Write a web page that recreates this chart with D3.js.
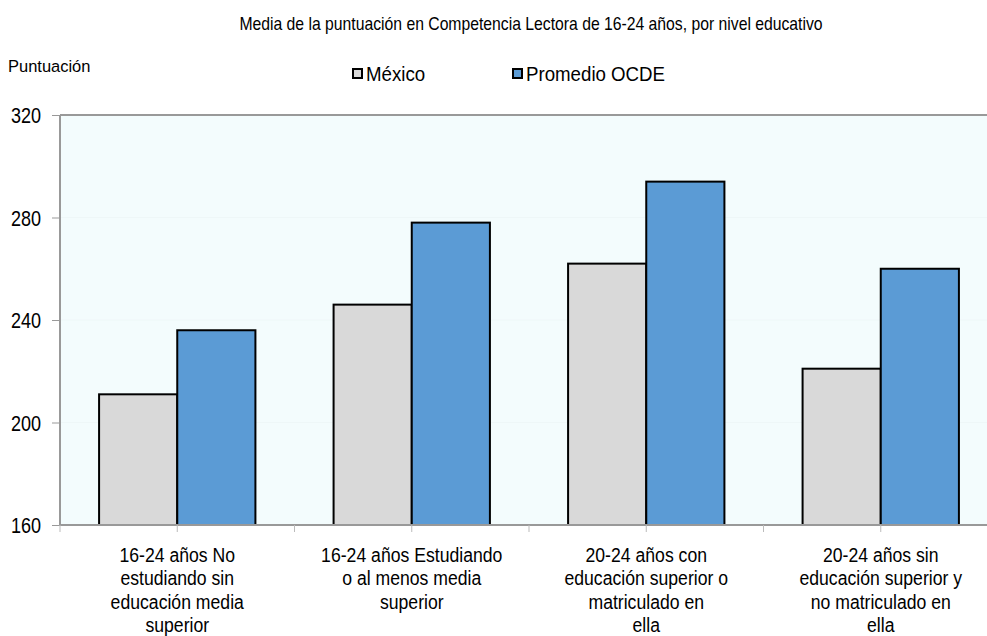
<!DOCTYPE html>
<html>
<head>
<meta charset="utf-8">
<script src="https://cdn.jsdelivr.net/npm/d3@7"></script>
<style>
  html, body { margin: 0; padding: 0; background: #ffffff; }
  svg { display: block; }
  text { font-family: "Liberation Sans", Arial, sans-serif; fill: #000; }
</style>
</head>
<body>
<svg id="chart" width="987" height="636"></svg>
<script>
// Reading-literacy mean scores, ages 16-24, by education level
const categories = [
  ["16-24 años No", "estudiando sin", "educación media", "superior"],
  ["16-24 años Estudiando", "o al menos media", "superior"],
  ["20-24 años con", "educación superior o", "matriculado en", "ella"],
  ["20-24 años sin", "educación superior y", "no matriculado en", "ella"]
];
const seriesNames = ["México", "Promedio OCDE"];
const mexico = [211, 246, 262, 221];
const oecd = [236, 278, 294, 260];
const yTicks = [160, 200, 240, 280, 320];
const colors = ["#d9d9d9", "#5b9bd5"];

const svg = d3.select("#chart");
const margin = { left: 60, top: 115, right: 998, bottom: 525 };

// narrow-looking text: horizontally compressed sans
function narrow(sel, x, y, sx) {
  return sel.attr("transform", `translate(${x},${y}) scale(${sx},1)`);
}

const x = d3.scaleBand()
  .domain(d3.range(categories.length))
  .range([margin.left, margin.right])
  .paddingInner(0).paddingOuter(0);

const xSub = d3.scaleBand()
  .domain(d3.range(seriesNames.length))
  .range([0, x.bandwidth()])
  .paddingInner(0).paddingOuter(0.5);

const y = d3.scaleLinear().domain([160, 320]).range([margin.bottom, margin.top]);

// plot area background
svg.append("rect")
  .attr("x", margin.left).attr("y", margin.top)
  .attr("width", margin.right - margin.left)
  .attr("height", margin.bottom - margin.top)
  .attr("fill", "#f3fcfd");

// faint horizontal gridlines
svg.append("g").selectAll("line")
  .data(yTicks.slice(1, -1))
  .join("line")
  .attr("x1", margin.left).attr("x2", margin.right)
  .attr("y1", d => y(d)).attr("y2", d => y(d))
  .attr("stroke", "#eef7f8").attr("stroke-width", 1);

// bars
const values = [mexico, oecd];
const groups = svg.append("g").selectAll("g")
  .data(categories.map((c, i) => i))
  .join("g")
  .attr("transform", i => `translate(${x(i)},0)`);

groups.selectAll("rect")
  .data(i => values.map((s, k) => ({ k, v: s[i] })))
  .join("rect")
  .attr("x", d => xSub(d.k))
  .attr("width", xSub.bandwidth())
  .attr("y", d => y(d.v))
  .attr("height", d => y(160) - y(d.v))
  .attr("fill", d => colors[d.k])
  .attr("stroke", "#000")
  .attr("stroke-width", 2);

// frame lines: top, left, bottom
const frame = svg.append("g").attr("stroke", "#999").attr("stroke-width", 2);
frame.append("line").attr("x1", margin.left).attr("x2", margin.right)
  .attr("y1", margin.top).attr("y2", margin.top);
frame.append("line").attr("x1", margin.left).attr("x2", margin.left)
  .attr("y1", margin.top).attr("y2", margin.bottom);
frame.append("line").attr("x1", margin.left).attr("x2", margin.right)
  .attr("y1", margin.bottom).attr("y2", margin.bottom);

// y axis ticks and labels
const yAxis = d3.axisLeft(y).tickValues(yTicks).tickSize(8).tickFormat(() => "");
const gy = svg.append("g").attr("transform", `translate(${margin.left},0)`).call(yAxis);
gy.select(".domain").remove();
gy.selectAll(".tick line").attr("stroke", "#999").attr("stroke-width", 1);

svg.append("g").selectAll("text")
  .data(yTicks)
  .join("text")
  .each(function (d) { narrow(d3.select(this), 41, y(d) + 8, 0.82); })
  .attr("text-anchor", "end")
  .style("font-size", "22px")
  .text(d => d);

// x axis ticks at band edges and band centres
const xTickPos = [];
categories.forEach((c, i) => {
  xTickPos.push(x(i));
  xTickPos.push(x(i) + x.bandwidth() / 2);
});
svg.append("g").selectAll("line")
  .data(xTickPos)
  .join("line")
  .attr("x1", d => d).attr("x2", d => d)
  .attr("y1", margin.bottom).attr("y2", margin.bottom + 7)
  .attr("stroke", "#bbb").attr("stroke-width", 1);

// category labels
svg.append("g").selectAll("text")
  .data(categories.map((c, i) => i))
  .join("text")
  .each(function (i) { narrow(d3.select(this), x(i) + x.bandwidth() / 2, 562, 0.84); })
  .attr("text-anchor", "middle")
  .style("font-size", "21px")
  .each(function (i) {
    d3.select(this).selectAll("tspan")
      .data(categories[i])
      .join("tspan")
      .attr("x", 0)
      .attr("dy", (d, j) => j === 0 ? 0 : 23.4)
      .text(d => d);
  });

// title
narrow(svg.append("text"), 531, 30, 0.9)
  .attr("text-anchor", "middle")
  .style("font-size", "17.5px")
  .text("Media de la puntuación en Competencia Lectora de 16-24 años, por nivel educativo");

// axis title
narrow(svg.append("text"), 8, 72, 0.97)
  .style("font-size", "17px")
  .text("Puntuación");

// legend
const legendX = [353, 513];
const legend = svg.append("g").selectAll("g")
  .data(seriesNames)
  .join("g")
  .attr("transform", (d, i) => `translate(${legendX[i]},74)`);
legend.append("rect")
  .attr("x", 0).attr("y", -5).attr("width", 9).attr("height", 9)
  .attr("fill", (d, i) => colors[i])
  .attr("stroke", "#000").attr("stroke-width", 2);
legend.append("text")
  .each(function () { narrow(d3.select(this), 13, 7, 0.89); })
  .style("font-size", "21px")
  .text(d => d);
</script>
</body>
</html>
